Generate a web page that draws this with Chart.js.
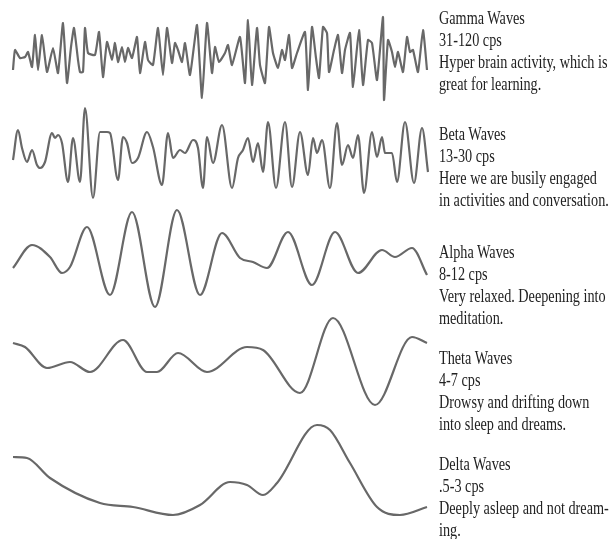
<!DOCTYPE html>
<html><head><meta charset="utf-8">
<script src="https://cdn.jsdelivr.net/npm/chart.js@4.4.1/dist/chart.umd.min.js"></script>
<style>
html,body{margin:0;padding:0;background:#fff;width:612px;height:539px;overflow:hidden}
#wrap{position:absolute;left:0;top:0;width:440px;height:539px}
.note{position:absolute;left:439px;font-family:"Liberation Serif","Times New Roman",serif;font-size:18px;line-height:22px;color:#222;transform:scaleX(0.79);transform-origin:0 0;white-space:nowrap}
</style></head><body>
<div id="wrap"><canvas id="c" width="440" height="539"></canvas></div>
<div id="notes"></div>
<script>
// ---- data (time units, amplitude relative to each trace's midline) ----
const waveNames = ["Gamma Waves", "Beta Waves", "Alpha Waves", "Theta Waves", "Delta Waves"];
const waveRates = ["31-120 cps", "13-30 cps", "8-12 cps", "4-7 cps", ".5-3 cps"];
const waveNotes = [
  ["Hyper brain activity, which is", "great for learning."],
  ["Here we are busily engaged", "in activities and conversation."],
  ["Very relaxed. Deepening into", "meditation."],
  ["Drowsy and drifting down", "into sleep and dreams."],
  ["Deeply asleep and not dream-", "ing."]
];

const gammaT = [13,15,20,25,28,32,35,38,42,47,53,58,63,67,71,74,78,80,83,85,88,95,99,103,107,112,115,118,122,125,128,132,137,140,145,148,153,158,163,167,172,175,178,182,185,190,197,202,207,212,215,219,225,228,232,240,245,248,252,257,260,265,269,273,278,282,285,289,292,297,305,308,312,316,319,323,327,329,334,338,342,345,350,353,359,363,368,372,377,383,384,388,392,395,398,403,407,410,413,418,423,427];
const gammaV = [-15,5,-3,-2,3,-12,20,-15,20,-17,7,-18,32,-28,8,27,-5,-17,-17,27,2,0,23,-22,13,-5,12,-7,8,-7,7,-3,18,-18,13,-5,-10,27,-20,27,-8,12,5,-7,12,-20,30,-43,32,-18,8,-7,2,10,-10,18,-28,35,-30,27,-10,-28,28,2,-13,5,-5,20,-13,2,23,-35,28,-3,-23,28,22,-17,5,20,-18,5,22,-32,25,-30,15,12,-25,38,-45,15,3,-12,3,-17,18,3,5,-17,25,-15];

const betaT = [13,18,22,27,32,37,40,45,52,55,58,62,68,73,80,85,93,100,107,110,118,123,127,132,138,147,153,162,168,173,180,185,193,198,203,207,213,222,232,238,243,248,253,258,263,268,276,285,292,300,308,313,317,322,330,337,342,348,353,358,364,372,377,382,385,392,397,405,414,422,428];
const betaV = [0,30,12,-2,10,-5,-8,-2,27,22,25,17,-22,22,-22,52,-38,28,28,27,-20,23,17,-3,2,28,13,-25,27,2,10,7,20,12,-28,23,-3,35,-28,2,10,22,-2,17,-12,38,-28,38,-27,28,-15,22,7,20,-28,37,-5,15,2,25,-33,28,3,23,7,7,-22,38,-23,32,-12];

const alphaT = [13,32,50,62,70,87,110,132,155,177,200,222,240,253,267,288,312,335,358,382,395,412,427];
const alphaV = [-5,18,6,-10,-4,36,-32,51,-44,53,-32,30,5,1,-5,31,-22,31,-10,13,6,15,-12];

const thetaT = [13,25,47,70,90,123,147,157,178,207,247,263,300,333,375,412,427];
const thetaV = [25,21,0,6,-4,28,-4,-4,15,-4,21,18,-25,50,-37,31,25];

const deltaT = [13,27,50,100,133,173,200,230,247,263,277,317,330,350,377,400,427];
const deltaV = [23,22,2,-23,-27,-35,-25,-2,-5,-15,-3,55,50,17,-27,-35,-27];

// ---- text column ----
const notes = document.getElementById('notes');
const noteTops = [7, 123, 241, 347, 453];
waveNames.forEach((n, i) => {
  const d = document.createElement('div');
  d.className = 'note';
  d.style.top = noteTops[i] + 'px';
  [n, waveRates[i], ...waveNotes[i]].forEach(line => {
    const l = document.createElement('div');
    l.textContent = line;
    d.appendChild(l);
  });
  notes.appendChild(d);
});

// ---- chart ----
const series = [
  {id: 'yDelta', t: deltaT, v: deltaV, min: -59, max: 60, w: 119, smooth: true},
  {id: 'yTheta', t: thetaT, v: thetaV, min: -52, max: 52, w: 104, smooth: true},
  {id: 'yAlpha', t: alphaT, v: alphaV, min: -53, max: 57, w: 110, smooth: true},
  {id: 'yBeta',  t: betaT,  v: betaV,  min: -46, max: 56, w: 102, smooth: true},
  {id: 'yGamma', t: gammaT, v: gammaV, min: -49, max: 55, w: 104, smooth: false}
];
const labelsOrder = ["Delta Waves", "Theta Waves", "Alpha Waves", "Beta Waves", "Gamma Waves"];

const scales = {x: {type: 'linear', min: 0, max: 440, display: false}};
series.forEach(s => {
  scales[s.id] = {type: 'linear', position: 'left', stack: 'waves', stackWeight: s.w,
                  min: s.min, max: s.max, display: false};
});

new Chart(document.getElementById('c'), {
  type: 'line',
  data: {
    datasets: series.map((s, i) => ({
      label: labelsOrder[i],
      data: s.t.map((x, k) => ({x: x, y: s.v[k]})),
      yAxisID: s.id,
      borderColor: '#686868',
      borderWidth: 2.2,
      pointRadius: 0,
      fill: false,
      tension: s.smooth ? 0.4 : 0.15,
      cubicInterpolationMode: s.smooth ? 'monotone' : 'default'
    }))
  },
  options: {
    responsive: false,
    animation: false,
    layout: {padding: 0},
    plugins: {legend: {display: false}, tooltip: {enabled: false}},
    scales: scales
  }
});
</script>
</body></html>
